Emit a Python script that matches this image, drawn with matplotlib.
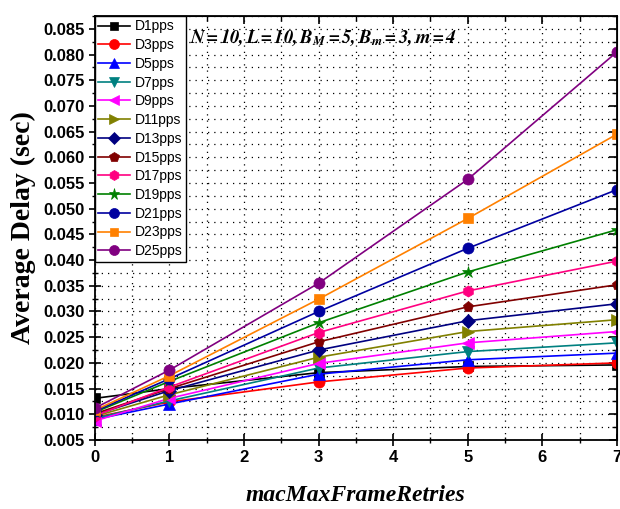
import matplotlib
matplotlib.use("Agg")
import matplotlib.pyplot as plt
from matplotlib.ticker import MultipleLocator, FormatStrFormatter

plt.rcParams['font.family'] = ['Liberation Sans', 'DejaVu Sans']
plt.rcParams['mathtext.fontset'] = 'stix'

retries = [0, 1, 3, 5, 7]
labels = ['D1pps', 'D3pps', 'D5pps', 'D7pps', 'D9pps', 'D11pps', 'D13pps',
          'D15pps', 'D17pps', 'D19pps', 'D21pps', 'D23pps', 'D25pps']

d1 = [0.0131, 0.0150, 0.0181, 0.0193, 0.0196]
d3 = [0.0094, 0.0124, 0.0163, 0.0190, 0.0200]
d5 = [0.0090, 0.0120, 0.0178, 0.0206, 0.0219]
d7 = [0.0092, 0.0126, 0.0190, 0.0222, 0.0239]
d9 = [0.0087, 0.0131, 0.0199, 0.0239, 0.0261]
d11 = [0.0096, 0.0138, 0.0211, 0.0261, 0.0284]
d13 = [0.0099, 0.0146, 0.0225, 0.0282, 0.0315]
d15 = [0.0101, 0.0150, 0.0241, 0.0309, 0.0352]
d17 = [0.0097, 0.0153, 0.0259, 0.0340, 0.0398]
d19 = [0.0104, 0.0164, 0.0278, 0.0377, 0.0459]
d21 = [0.0106, 0.0169, 0.0300, 0.0423, 0.0537]
d23 = [0.0108, 0.0175, 0.0324, 0.0481, 0.0645]
d25 = [0.0112, 0.0186, 0.0355, 0.0557, 0.0805]

series = [d1, d3, d5, d7, d9, d11, d13, d15, d17, d19, d21, d23, d25]
colors = ['#000000', '#FF0000', '#0000FF', '#008080', '#FF00FF', '#808000',
          '#000080', '#800000', '#FF0080', '#008000', '#0000A0', '#FF8000',
          '#800080']
markers = ['s', 'o', '^', 'v', '<', '>', 'D', 'p', 'h', '*', 'o', 's', 'o']
msizes = [7, 8, 8, 8, 8, 8, 7, 8, 8, 9, 8, 7, 8]

fig = plt.figure(figsize=(6.2, 5.09), dpi=100)
ax = fig.add_axes([0.153, 0.1356, 0.842, 0.833])

for vals, lab, c, m, ms in zip(series, labels, colors, markers, msizes):
    ax.plot(retries, vals, color=c, marker=m, markersize=ms, linewidth=1.2,
            markeredgewidth=0.5, markeredgecolor=c, label=lab)

ax.set_xlim(0, 7)
ax.set_ylim(0.005, 0.0875)
ax.xaxis.set_major_locator(MultipleLocator(1))
ax.xaxis.set_minor_locator(MultipleLocator(0.5))
ax.yaxis.set_major_locator(MultipleLocator(0.005))
ax.yaxis.set_minor_locator(MultipleLocator(0.0025))
ax.yaxis.set_major_formatter(FormatStrFormatter('%.3f'))

ax.grid(which='both', color='black', linestyle=(0, (1.0, 4.0)), linewidth=0.9)
ax.set_axisbelow(True)

ax.tick_params(which='major', direction='inout', length=8, width=1.2,
               labelsize=12)
ax.tick_params(which='minor', direction='inout', length=5, width=1.0)
for lab in ax.get_xticklabels() + ax.get_yticklabels():
    lab.set_fontweight('bold')
for s in ax.spines.values():
    s.set_linewidth(1.3)

top = ax.secondary_xaxis('top')
top.xaxis.set_major_locator(MultipleLocator(1))
top.xaxis.set_minor_locator(MultipleLocator(0.5))
top.tick_params(which='major', direction='in', length=6, width=1.2, labeltop=False)
top.tick_params(which='minor', direction='in', length=3.5, width=1.0)
right = ax.secondary_yaxis('right')
right.yaxis.set_major_locator(MultipleLocator(0.005))
right.yaxis.set_minor_locator(MultipleLocator(0.0025))
right.tick_params(which='major', direction='in', length=6, width=1.2, labelright=False)
right.tick_params(which='minor', direction='in', length=3.5, width=1.0)

ax.set_xlabel('macMaxFrameRetries', fontsize=17, fontweight='bold',
              fontstyle='italic', family='Liberation Serif', labelpad=14)
ax.set_ylabel('Average Delay (sec)', fontsize=20, fontweight='bold',
              family='Liberation Serif', labelpad=5)

leg = ax.legend(loc='upper left', fontsize=10, frameon=True, fancybox=False,
                edgecolor='black', framealpha=1, borderaxespad=0,
                labelspacing=0.34, handlelength=2.3, handletextpad=0.3,
                borderpad=0.25, markerscale=0.9)
leg.get_frame().set_linewidth(1.0)

ax.text(0.182, 0.948,
        r'$\mathbfit{N{=}10,L{=}10,B_M{=}5,B_m{=}3,m{=}4}$',
        transform=ax.transAxes, fontsize=13.5, va='center', ha='left')

fig.savefig('out.png', dpi=100)
